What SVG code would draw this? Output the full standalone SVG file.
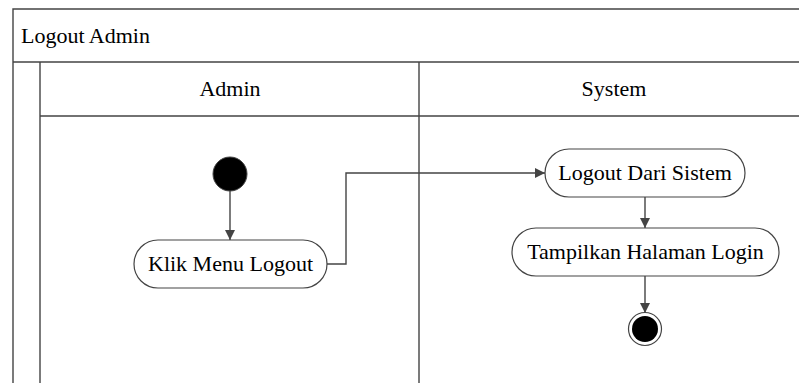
<svg xmlns="http://www.w3.org/2000/svg" width="799" height="383" viewBox="0 0 799 383">
<style>
.ln{stroke:#444;stroke-width:1.4;fill:none}
.node{fill:#fff;stroke:#444;stroke-width:1.2}
.t{font-family:'Liberation Serif','Times New Roman',Times,'DejaVu Serif','Noto Serif',serif;font-size:22px;fill:#000}
.c{text-anchor:middle}
</style>
<defs>
<marker id="arr" viewBox="0 0 10 10" refX="10" refY="5" markerWidth="10" markerHeight="10" markerUnits="userSpaceOnUse" orient="auto">
<path d="M0,0 L10,5 L0,10 Z" fill="#444"/>
</marker>
</defs>
<rect width="799" height="383" fill="#fff"/>
<g id="frame">
<path class="ln" d="M13,383 V9 H800 M13,62 H800 M40,62 V383 M40,116 H800 M419,62 V383"/>
<text class="t" x="21" y="43">Logout Admin</text>
<text class="t c" x="230" y="96">Admin</text>
<text class="t c" x="614" y="96">System</text>
</g>
<g id="connectors">
<path class="ln" d="M230,191 V240" marker-end="url(#arr)"/>
<path class="ln" d="M327,264 H346 V173 H545" marker-end="url(#arr)"/>
<path class="ln" d="M645,197 V228" marker-end="url(#arr)"/>
<path class="ln" d="M645,276 V313" marker-end="url(#arr)"/>
</g>
<g id="start">
<circle cx="230" cy="174" r="17" fill="#000" stroke="#444" stroke-width="1"/>
</g>
<g id="klik">
<rect class="node" x="134" y="240" width="193" height="48" rx="24"/>
<text class="t c" x="230.5" y="271">Klik Menu Logout</text>
</g>
<g id="logout">
<rect class="node" x="545" y="149" width="200" height="48" rx="24"/>
<text class="t c" x="645" y="180">Logout Dari Sistem</text>
</g>
<g id="tampilkan">
<rect class="node" x="512" y="228" width="267" height="48" rx="24"/>
<text class="t c" x="645.5" y="259">Tampilkan Halaman Login</text>
</g>
<g id="end">
<circle cx="645" cy="329" r="16.5" fill="#fff" stroke="#444" stroke-width="1.2"/>
<circle cx="645" cy="329" r="13" fill="#000"/>
</g>
</svg>
